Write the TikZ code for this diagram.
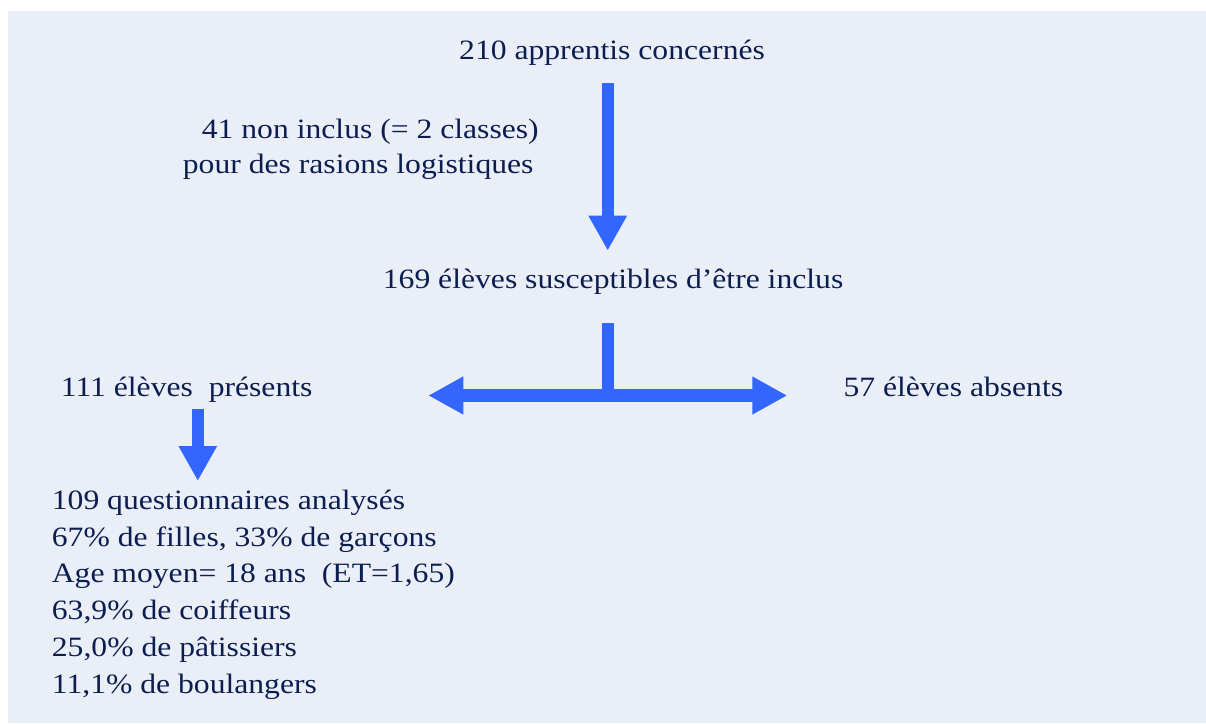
\documentclass[tikz,border=0pt]{standalone}
\usepackage{fontspec}
\setmainfont[FakeStretch=1.13]{Liberation Serif}
\usetikzlibrary{arrows.meta}
\definecolor{bg}{RGB}{234,239,247}
\definecolor{arrowblue}{RGB}{51,102,255}
\definecolor{ink}{RGB}{12,30,80}
\begin{document}
\begin{tikzpicture}[x=1pt,y=1pt,
  txt/.style={anchor=base west,inner sep=0pt,text=ink,font=\fontsize{28}{33}\selectfont},
  bigarrow/.style={draw=arrowblue,line width=12pt,line cap=butt,-{Triangle[width=36pt,length=35pt]}},
  twoarrow/.style={draw=arrowblue,line width=12.4pt,line cap=butt,{Triangle[width=35.5pt,length=35pt]}-{Triangle[width=35.5pt,length=35pt]}},
  stem/.style={draw=arrowblue,line width=12pt,line cap=butt}]
\useasboundingbox (0,0) rectangle (1206,-723);
\fill[bg] (8,-11) rectangle (1206,-723);
% texts
\node[txt] (top) at (459,-59.3) {210 apprentis concernés};
\node[txt] (excl1) at (201.7,-138.3) {41 non inclus (= 2 classes)};
\node[txt] (excl2) at (182.7,-173.3) {pour des rasions logistiques};
\node[txt] (elig) at (382.7,-288.3) {169 élèves susceptibles d’être inclus};
\node[txt] (pres) at (60.7,-396.7) {111 élèves\ \ présents};
\node[txt] (abs) at (843.3,-396.7) {57 élèves absents};
\node[txt] (l1) at (51.7,-509.3) {109 questionnaires analysés};
\node[txt] (l2) at (51.7,-546.1) {67\% de filles, 33\% de garçons};
\node[txt] (l3) at (51.7,-582.9) {Age moyen= 18 ans\ \ (ET=1,65)};
\node[txt] (l4) at (51.7,-619.7) {63,9\% de coiffeurs};
\node[txt] (l5) at (51.7,-656.5) {25,0\% de pâtissiers};
\node[txt] (l6) at (51.7,-693.3) {11,1\% de boulangers};
% arrow coordinates
\coordinate (a1s) at (607.7,-83.3);
\coordinate (a1e) at (607.7,-250.7);
\coordinate (a2s) at (608,-323.3);
\coordinate (a2j) at (608,-395.5);
\coordinate (a2l) at (428.3,-395.5);
\coordinate (a2r) at (787.3,-395.5);
\coordinate (a3s) at (197.8,-409.3);
\coordinate (a3e) at (197.8,-481);
% arrows
\draw[bigarrow] (a1s) -- (a1e);
\draw[stem] (a2s) -- (a2j);
\draw[twoarrow] (a2l) -- (a2r);
\draw[bigarrow] (a3s) -- (a3e);
\end{tikzpicture}
\end{document}
